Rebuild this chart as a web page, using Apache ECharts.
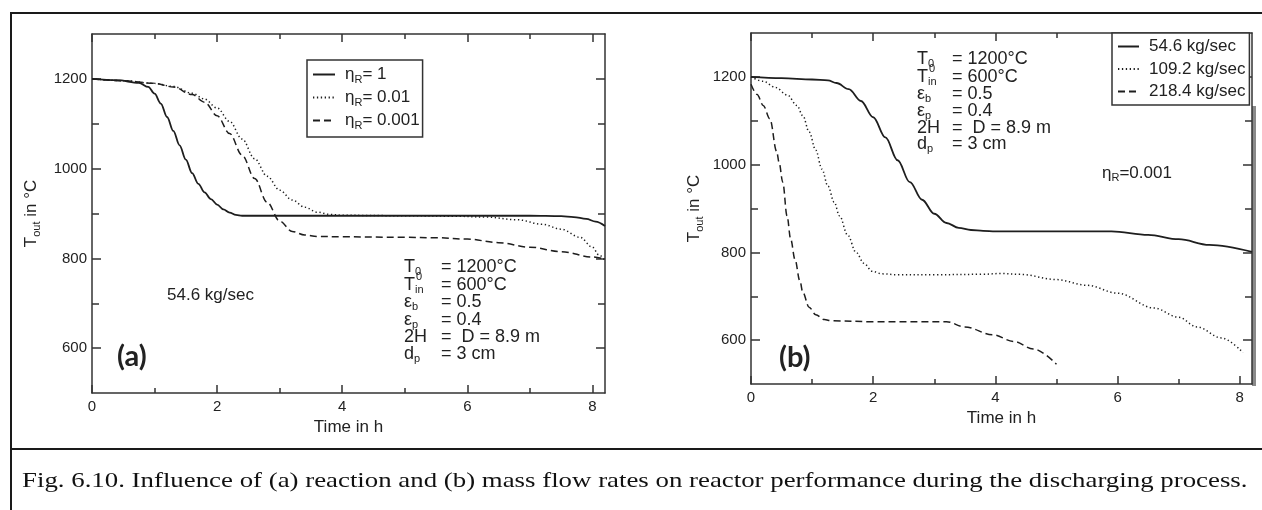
<!DOCTYPE html>
<html><head><meta charset="utf-8">
<script src="https://cdn.jsdelivr.net/npm/echarts@6/dist/echarts.min.js"></script>
<style>html,body{margin:0;padding:0;background:#fff}#c{width:1262px;height:510px}</style>
</head><body><div id="c"></div>
<script>
// ---- ticks ----
const xTicksMajor = [0, 2, 4, 6, 8];
const xTicksMinor = [1, 3, 5, 7];
const yTicksMajor = [600, 800, 1000, 1200];
const yTicksMinor = [700, 900, 1100];

// ---- panel (a): influence of reaction (54.6 kg/sec) ----
const aNames = ['etaR=1', 'etaR=0.01', 'etaR=0.001'];
const aLegendText = ['{e|η}{s|R}{t|= 1}', '{e|η}{s|R}{t|= 0.01}', '{e|η}{s|R}{t|= 0.001}'];
const aEta1 = [[0,1200],[0.4,1197],[0.75,1191],[0.9,1182],[1.0,1167],[1.1,1145],[1.2,1115],[1.3,1084],[1.4,1052],[1.5,1020],[1.6,990],[1.7,966],[1.8,947],[1.9,932],[2.0,920],[2.1,909],[2.2,902],[2.3,897],[2.4,895],[3,895],[4,895],[5,895],[6,895],[7,895],[7.5,894],[7.7,892],[7.9,888],[8.05,882],[8.2,872]];
const aEta01 = [[0,1200],[0.5,1196],[1.0,1190],[1.3,1183],[1.6,1168],[1.8,1155],[2.0,1135],[2.2,1105],[2.4,1066],[2.6,1022],[2.8,983],[3.0,952],[3.2,930],[3.4,914],[3.6,903],[3.8,898],[4.0,896],[5,895],[5.8,894],[6.3,892],[6.8,886],[7.2,876],[7.5,865],[7.8,847],[8.0,825],[8.1,808],[8.2,795]];
const aEta001 = [[0,1200],[0.5,1196],[1.0,1190],[1.3,1182],[1.6,1165],[1.8,1148],[2.0,1118],[2.2,1078],[2.4,1030],[2.6,978],[2.8,925],[3.0,883],[3.2,860],[3.4,852],[3.6,849],[4,848],[5,847],[5.5,846],[6,843],[6.5,835],[7,825],[7.5,815],[8,803],[8.2,798]];

// ---- panel (b): influence of mass flow rate (etaR = 0.001) ----
const bNames = ['54.6 kg/sec', '109.2 kg/sec', '218.4 kg/sec'];
const b546 = [[0,1200],[0.5,1197],[1.0,1194],[1.26,1192],[1.4,1186],[1.6,1172],[1.8,1145],[2.0,1108],[2.2,1062],[2.4,1010],[2.6,960],[2.8,920],[3.0,888],[3.2,867],[3.4,856],[3.6,851],[3.8,849],[4,848],[5,848],[5.9,848],[6.5,840],[7.0,830],[7.5,817],[8.2,801]];
const b1092 = [[0,1200],[0.2,1190],[0.4,1176],[0.6,1158],[0.75,1135],[0.85,1111],[0.95,1075],[1.06,1033],[1.16,990],[1.26,951],[1.36,915],[1.45,883],[1.58,840],[1.72,800],[1.85,775],[1.98,757],[2.15,751],[2.4,749],[3,749],[3.8,750],[4.1,752],[4.4,750],[5.0,738],[5.5,725],[6.0,707],[6.6,673],[7.0,652],[7.3,630],[7.7,605],[8.05,572]];
const b2184 = [[0,1183],[0.1,1160],[0.2,1135],[0.31,1104],[0.42,1030],[0.46,1005],[0.52,960],[0.59,883],[0.65,830],[0.72,784],[0.8,735],[0.85,708],[0.95,675],[1.06,658],[1.2,647],[1.32,644],[2,642],[3.2,642],[3.5,630],[3.96,612],[4.3,597],[4.62,580],[5.0,545]];

// ---- annotation texts ----
const paramCol1 = ['{m|T}{s|0}', '{m|T}{s|in}', '{m|ε}{s|b}', '{m|ε}{s|p}', '{m|2H}', '{m|d}{s|p}'];
const paramCol2 = ['= 1200°C', '= 600°C', '= 0.5', '= 0.4', '=  D = 8.9 m', '= 3 cm'];
const caption = 'Fig. 6.10. Influence of (a) reaction and (b) mass flow rates on reactor performance during the discharging process.';

const FONT = '"Liberation Sans", Arial, Helvetica, sans-serif';
const INK = '#222';
const AX = '#333';

const chart = echarts.init(document.getElementById('c'), null, {renderer: 'canvas'});

const subRich = {
  m: {fontSize: 18, fontFamily: FONT, color: INK},
  e: {fontSize: 17, fontFamily: FONT, color: INK},
  t: {fontSize: 17, fontFamily: FONT, color: INK},
  s: {fontSize: 11, fontFamily: FONT, color: INK, padding: [10, 0, 0, 0]},
  n: {fontSize: 17, fontFamily: FONT, color: INK}
};

function xAxes(g) {
  const base = {gridIndex: g, type: 'value', min: 0, max: 8.2, splitLine: {show: false}};
  return [
    Object.assign({}, base, {position: 'bottom',
      axisLine: {onZero: false, lineStyle: {color: AX, width: 1.5}},
      axisTick: {inside: true, length: 8, customValues: xTicksMajor, lineStyle: {color: AX, width: 1.5}},
      axisLabel: {customValues: xTicksMajor, margin: 6, fontSize: 15, fontFamily: FONT, color: INK, formatter: v => String(v)},
      name: 'Time in h', nameLocation: 'middle', nameGap: g === 0 ? 22 : 20,
      nameTextStyle: {fontSize: 17, fontFamily: FONT, color: INK}}),
    Object.assign({}, base, {position: 'bottom', axisLine: {show: false, onZero: false},
      axisTick: {inside: true, length: 5, customValues: xTicksMinor, lineStyle: {color: AX, width: 1.5}},
      axisLabel: {show: false}}),
    Object.assign({}, base, {position: 'top',
      axisLine: {onZero: false, lineStyle: {color: AX, width: 1.5}},
      axisTick: {inside: true, length: 8, customValues: xTicksMajor, lineStyle: {color: AX, width: 1.5}},
      axisLabel: {show: false}}),
    Object.assign({}, base, {position: 'top', axisLine: {show: false, onZero: false},
      axisTick: {inside: true, length: 5, customValues: xTicksMinor, lineStyle: {color: AX, width: 1.5}},
      axisLabel: {show: false}})
  ];
}
function yAxes(g) {
  const base = {gridIndex: g, type: 'value', min: 500, max: 1300, splitLine: {show: false}};
  return [
    Object.assign({}, base, {position: 'left',
      axisLine: {onZero: false, lineStyle: {color: AX, width: 1.5}},
      axisTick: {inside: true, length: 9, customValues: yTicksMajor, lineStyle: {color: AX, width: 1.5}},
      axisLabel: {customValues: yTicksMajor, margin: 5, fontSize: 15, fontFamily: FONT, color: INK, formatter: v => String(v)},
      name: '{n|T}{s|out}{n| in °C}', nameLocation: 'middle', nameGap: g === 0 ? 50 : 46,
      nameTextStyle: {fontSize: 17, fontFamily: FONT, color: INK, rich: subRich}}),
    Object.assign({}, base, {position: 'left', axisLine: {show: false, onZero: false},
      axisTick: {inside: true, length: 7, customValues: yTicksMinor, lineStyle: {color: AX, width: 1.5}},
      axisLabel: {show: false}}),
    Object.assign({}, base, {position: 'right',
      axisLine: {onZero: false, lineStyle: {color: AX, width: 1.5}},
      axisTick: {inside: true, length: 9, customValues: yTicksMajor, lineStyle: {color: AX, width: 1.5}},
      axisLabel: {show: false}}),
    Object.assign({}, base, {position: 'right', axisLine: {show: false, onZero: false},
      axisTick: {inside: true, length: 7, customValues: yTicksMinor, lineStyle: {color: AX, width: 1.5}},
      axisLabel: {show: false}})
  ];
}

const SOLID = 'solid', DOT = [1.3, 2.6], DASH = [7, 4];
function line(name, data, g, dash) {
  return {
    name: name, type: 'line', data: data, xAxisIndex: g * 4, yAxisIndex: g * 4,
    symbol: 'none', showSymbol: false, smooth: 0.35, smoothMonotone: 'x',
    lineStyle: {color: '#1e1e1e', width: dash === SOLID ? 1.8 : 1.5, type: dash},
    itemStyle: {color: '#1e1e1e'}, emphasis: {disabled: true}, animation: false
  };
}

function paramBlock(x1, x2, ys) {
  const els = [];
  ys.forEach((y, i) => {
    els.push({type: 'text', x: x1, y: y, style: {text: paramCol1[i], rich: subRich, verticalAlign: 'middle', fill: INK}});
    els.push({type: 'text', x: x2, y: y, style: {text: paramCol2[i], font: '18px ' + FONT, verticalAlign: 'middle', fill: INK}});
  });
  // small superscript mark on the second row
  els.push({type: 'text', x: x1 + 12, y: ys[1] - 8, style: {text: '0', font: '11px ' + FONT, verticalAlign: 'middle', fill: INK}});
  return els;
}

const legendCommon = {
  orient: 'vertical', borderColor: AX, borderWidth: 1.5, backgroundColor: '#fff',
  itemStyle: {opacity: 0}, inactiveColor: '#222', selectedMode: false
};

const option = {
  animation: false,
  grid: [
    {left: 92, top: 34, width: 513, height: 359},
    {left: 751, top: 33, width: 501, height: 351}
  ],
  xAxis: xAxes(0).concat(xAxes(1)),
  yAxis: yAxes(0).concat(yAxes(1)),
  legend: [
    Object.assign({}, legendCommon, {
      data: aNames, left: 307, top: 60, itemWidth: 22, itemHeight: 10, itemGap: 4, padding: [6, 3, 6, 5],
      formatter: n => aLegendText[aNames.indexOf(n)],
      textStyle: {fontSize: 17, fontFamily: FONT, color: INK, padding: [0, 0, 0, 5], rich: subRich}
    }),
    Object.assign({}, legendCommon, {
      data: bNames, left: 1112, top: 33, itemWidth: 21, itemHeight: 10, itemGap: 5.5, padding: [5, 4, 5, 5],
      textStyle: {fontSize: 17, fontFamily: FONT, color: INK, padding: [0, 0, 0, 5]}
    })
  ],
  series: [
    line(aNames[0], aEta1, 0, SOLID),
    line(aNames[1], aEta01, 0, DOT),
    line(aNames[2], aEta001, 0, DASH),
    line(bNames[0], b546, 1, SOLID),
    line(bNames[1], b1092, 1, DOT),
    line(bNames[2], b2184, 1, DASH)
  ],
  graphic: [
    // outer frame and caption separator
    {type: 'line', shape: {x1: 11, y1: 13, x2: 1262, y2: 13}, style: {stroke: '#1a1a1a', lineWidth: 2}},
    {type: 'line', shape: {x1: 11, y1: 12, x2: 11, y2: 510}, style: {stroke: '#1a1a1a', lineWidth: 2}},
    {type: 'line', shape: {x1: 11, y1: 449, x2: 1262, y2: 449}, style: {stroke: '#1a1a1a', lineWidth: 2}},
    {type: 'rect', shape: {x: 1252, y: 106, width: 4, height: 280}, style: {fill: '#8a8a8a'}},
    {type: 'text', x: 22, y: 481, scaleX: 1.22, style: {text: caption, font: '22px "Liberation Serif", "Times New Roman", serif', verticalAlign: 'middle', fill: '#111'}},
    // panel (a) labels
    {type: 'text', x: 167, y: 295, style: {text: '54.6 kg/sec', font: '17px ' + FONT, verticalAlign: 'middle', fill: INK}},
    {type: 'text', x: 117, y: 357, style: {text: '(a)', font: 'bold 29px Lato, "Open Sans", sans-serif', verticalAlign: 'middle', fill: '#222'}},
    // panel (b) labels
    {type: 'text', x: 1102, y: 173, style: {text: '{m|η}{s|R}{m|=0.001}', rich: {m: {fontSize: 17, fontFamily: FONT, color: INK}, s: subRich.s}, verticalAlign: 'middle', fill: INK}},
    {type: 'text', x: 779, y: 358, style: {text: '(b)', font: 'bold 29px Lato, "Open Sans", sans-serif', verticalAlign: 'middle', fill: '#222'}}
  ].concat(paramBlock(404, 441, [267, 285, 302, 320, 337, 354]))
   .concat(paramBlock(917, 952, [59, 77, 94, 111, 128, 144]))
};
chart.setOption(option);
</script></body></html>
